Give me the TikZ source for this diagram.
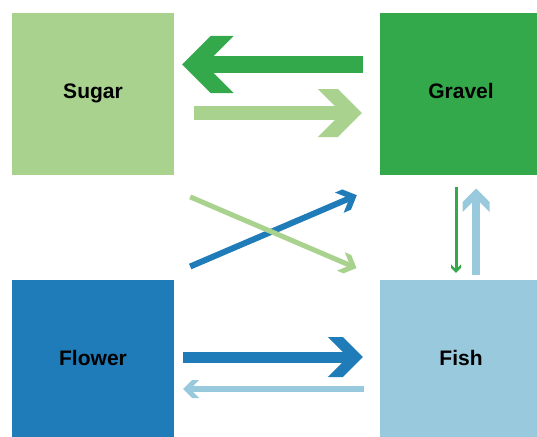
\documentclass[tikz,border=0pt]{standalone}
\usepackage{fontspec}
\setmainfont{Liberation Sans}
\usetikzlibrary{arrows.meta,calc}
\pgfdeclarearrow{
  name = Chev,
  parameters = {\the\pgfarrowlength,\the\pgfarrowinset},
  setup code = {
    \pgfarrowssettipend{0pt}
    \pgfarrowssetlineend{-\pgfarrowinset}
    \pgfarrowssetbackend{-\pgfarrowlength}
    \pgfarrowssavethe\pgfarrowlength
    \pgfarrowssavethe\pgfarrowinset
  },
  drawing code = {
    \pgfpathmoveto{\pgfpointorigin}
    \pgfpathlineto{\pgfpoint{\pgfarrowinset-\pgfarrowlength}{\pgfarrowlength-\pgfarrowinset}}
    \pgfpathlineto{\pgfpoint{-\pgfarrowlength}{\pgfarrowlength-\pgfarrowinset}}
    \pgfpathlineto{\pgfpoint{-\pgfarrowinset}{0pt}}
    \pgfpathlineto{\pgfpoint{-\pgfarrowlength}{\pgfarrowinset-\pgfarrowlength}}
    \pgfpathlineto{\pgfpoint{\pgfarrowinset-\pgfarrowlength}{\pgfarrowinset-\pgfarrowlength}}
    \pgfpathclose
    \pgfusepathqfill
  },
  defaults = {length = 12pt, inset = 5pt}
}
\definecolor{lgreen}{RGB}{168,210,142}
\definecolor{dgreen}{RGB}{52,169,75}
\definecolor{dblue}{RGB}{31,124,184}
\definecolor{lblue}{RGB}{152,201,221}
\tikzset{
  box/.style={minimum size=162pt, inner sep=0pt, text height=15pt, text depth=7pt,
    font=\bfseries\fontsize{21pt}{25pt}\selectfont, text=black},
  flow/.style n args={4}{color=#1, line width=#2, -{Chev[length=#3,inset=#4]}}
}
\begin{document}
\begin{tikzpicture}[x=1pt,y=-1pt]
\useasboundingbox (0,0) rectangle (537,436);
\clip (0,0) rectangle (537,436);
\fill[white] (0,0) rectangle (537,436);
\node[box, fill=lgreen] (sugar) at (93,94) {Sugar};
\node[box, fill=dgreen] (gravel) at (461,94) {Gravel};
\node[box, fill=dblue] (flower) at (93,361) {Flower};
\node[box, fill=lblue] (fish) at (461,361) {Fish};
% top pair
\draw[flow={dgreen}{17pt}{51.5pt}{23pt}] ($(gravel.west)+(-17,-29.5)$) -- ($(sugar.east)+(8,-29.5)$);
\draw[flow={lgreen}{14pt}{44pt}{20pt}] ($(sugar.east)+(20,19)$) -- ($(gravel.west)+(-18,19)$);
% bottom pair
\draw[flow={dblue}{11pt}{35pt}{15pt}] ($(flower.east)+(9,-4)$) -- ($(fish.west)+(-17,-4)$);
\draw[flow={lblue}{6pt}{16pt}{7pt}] ($(fish.west)+(-16,28)$) -- ($(flower.east)+(9,28)$);
% right pair
\draw[flow={dgreen}{3pt}{8.5pt}{3.5pt}] ($(gravel.south)+(-5,11.7)$) -- ($(fish.north)+(-5,-7)$);
\draw[flow={lblue}{8.5pt}{23.5pt}{10pt}] ($(fish.north)+(15,-5)$) -- ($(gravel.south)+(15,13.3)$);
% diagonals
\draw[flow={dblue}{6pt}{19pt}{8pt}] ($(flower.north east)+(16,-13.3)$) -- ($(gravel.south west)+(-23,20)$);
\draw[flow={lgreen}{5pt}{17pt}{7pt}] ($(sugar.south east)+(16,21.7)$) -- ($(fish.north west)+(-23.3,-11.7)$);
\end{tikzpicture}
\end{document}
